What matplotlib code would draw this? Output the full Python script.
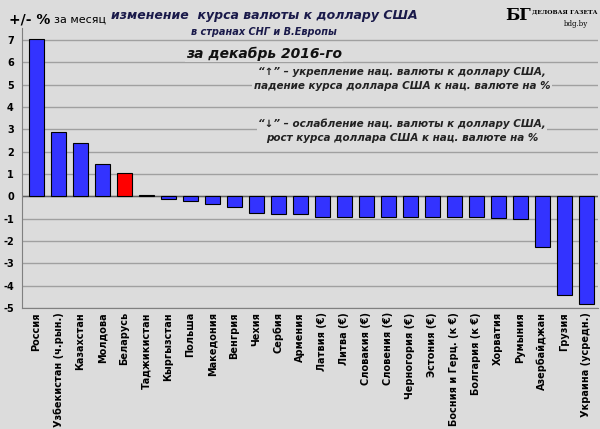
import matplotlib
matplotlib.use('Agg')
import matplotlib.pyplot as plt

countries = ['Россия', 'Узбекистан (ч.рын.)', 'Казахстан', 'Молдова', 'Беларусь',
             'Таджикистан', 'Кыргызстан', 'Польша', 'Македония', 'Венгрия', 'Чехия',
             'Сербия', 'Армения', 'Латвия (€)', 'Литва (€)', 'Словакия (€)', 'Словения (€)',
             'Черногория (€)', 'Эстония (€)', 'Босния и Герц. (к €)', 'Болгария (к €)',
             'Хорватия', 'Румыния', 'Азербайджан', 'Грузия', 'Украина (усредн.)']
values = [7.05, 2.9, 2.4, 1.43, 1.05, 0.05, -0.12, -0.2, -0.35, -0.48, -0.75,
          -0.8, -0.8, -0.93, -0.93, -0.93, -0.93, -0.93, -0.93, -0.93, -0.93,
          -0.97, -1.0, -2.28, -4.4, -4.8]

plt.rcParams['axes.unicode_minus'] = False
bg = '#dcdcdc'
navy = '#1a1a4a'
colors = ['#ff0000' if c == 'Беларусь' else '#3333ff' for c in countries]

fig = plt.figure(figsize=(6, 4.29), dpi=100, facecolor=bg)
ax = fig.add_axes([0.037, 0.282, 0.96, 0.653], facecolor=bg)
ax.bar(range(len(values)), values, width=0.68, color=colors, edgecolor='black', linewidth=0.8, zorder=3)
ax.set_xlim(-0.65, len(values) - 0.45)
ax.set_ylim(-5, 7.55)
ax.set_yticks(range(-5, 8))
ax.yaxis.grid(True, color='#a0a0a0', linewidth=1, zorder=0)
ax.axhline(0, color='#606060', linewidth=1, zorder=2)
for s in ['top', 'right']:
    ax.spines[s].set_visible(False)
ax.spines['left'].set_color('#808080')
ax.spines['bottom'].set_color('#808080')
ax.tick_params(axis='y', labelsize=7, length=0, pad=6)
ax.set_xticks(range(len(values)))
ax.set_xticklabels(countries, rotation=90, fontsize=7, fontweight='bold')
ax.tick_params(axis='x', length=0, pad=3)
for t in ax.get_yticklabels():
    t.set_fontweight('bold')

box = dict(facecolor=bg, edgecolor='none', pad=1)
fig.text(0.015, 0.955, '+/- %', fontsize=10, fontweight='bold', va='center')
fig.text(0.09, 0.955, 'за месяц', fontsize=8, va='center')
fig.text(0.44, 0.965, 'изменение  курса валюты к доллару США', fontsize=9, fontweight='bold',
         style='italic', color=navy, ha='center', va='center')
fig.text(0.44, 0.925, 'в странах СНГ и В.Европы', fontsize=7, fontweight='bold',
         style='italic', color=navy, ha='center', va='center')
fig.text(0.44, 0.875, 'за декабрь 2016-го', fontsize=10, fontweight='bold',
         style='italic', color='#111111', ha='center', va='center', bbox=box)
fig.text(0.67, 0.815, '“↑” – укрепление нац. валюты к доллару США,\nпадение курса доллара США к нац. валюте на %',
         fontsize=7.5, style='italic', fontweight='bold', color='#222222', ha='center', va='center',
         linespacing=1.5, bbox=box)
fig.text(0.67, 0.695, '“↓” – ослабление нац. валюты к доллару США,\nрост курса доллара США к нац. валюте на %',
         fontsize=7.5, style='italic', fontweight='bold', color='#222222', ha='center', va='center',
         linespacing=1.5, bbox=box)
fig.text(0.885, 0.965, 'БГ', fontsize=12, fontweight='bold', family='DejaVu Serif', ha='right', va='center')
fig.text(0.996, 0.972, 'ДЕЛОВАЯ ГАЗЕТА', fontsize=4.3, fontweight='bold', family='DejaVu Serif',
         ha='right', va='center')
fig.text(0.96, 0.945, 'bdg.by', fontsize=5, family='DejaVu Serif', ha='center', va='center')

fig.savefig('out.png', dpi=100, facecolor=bg)
